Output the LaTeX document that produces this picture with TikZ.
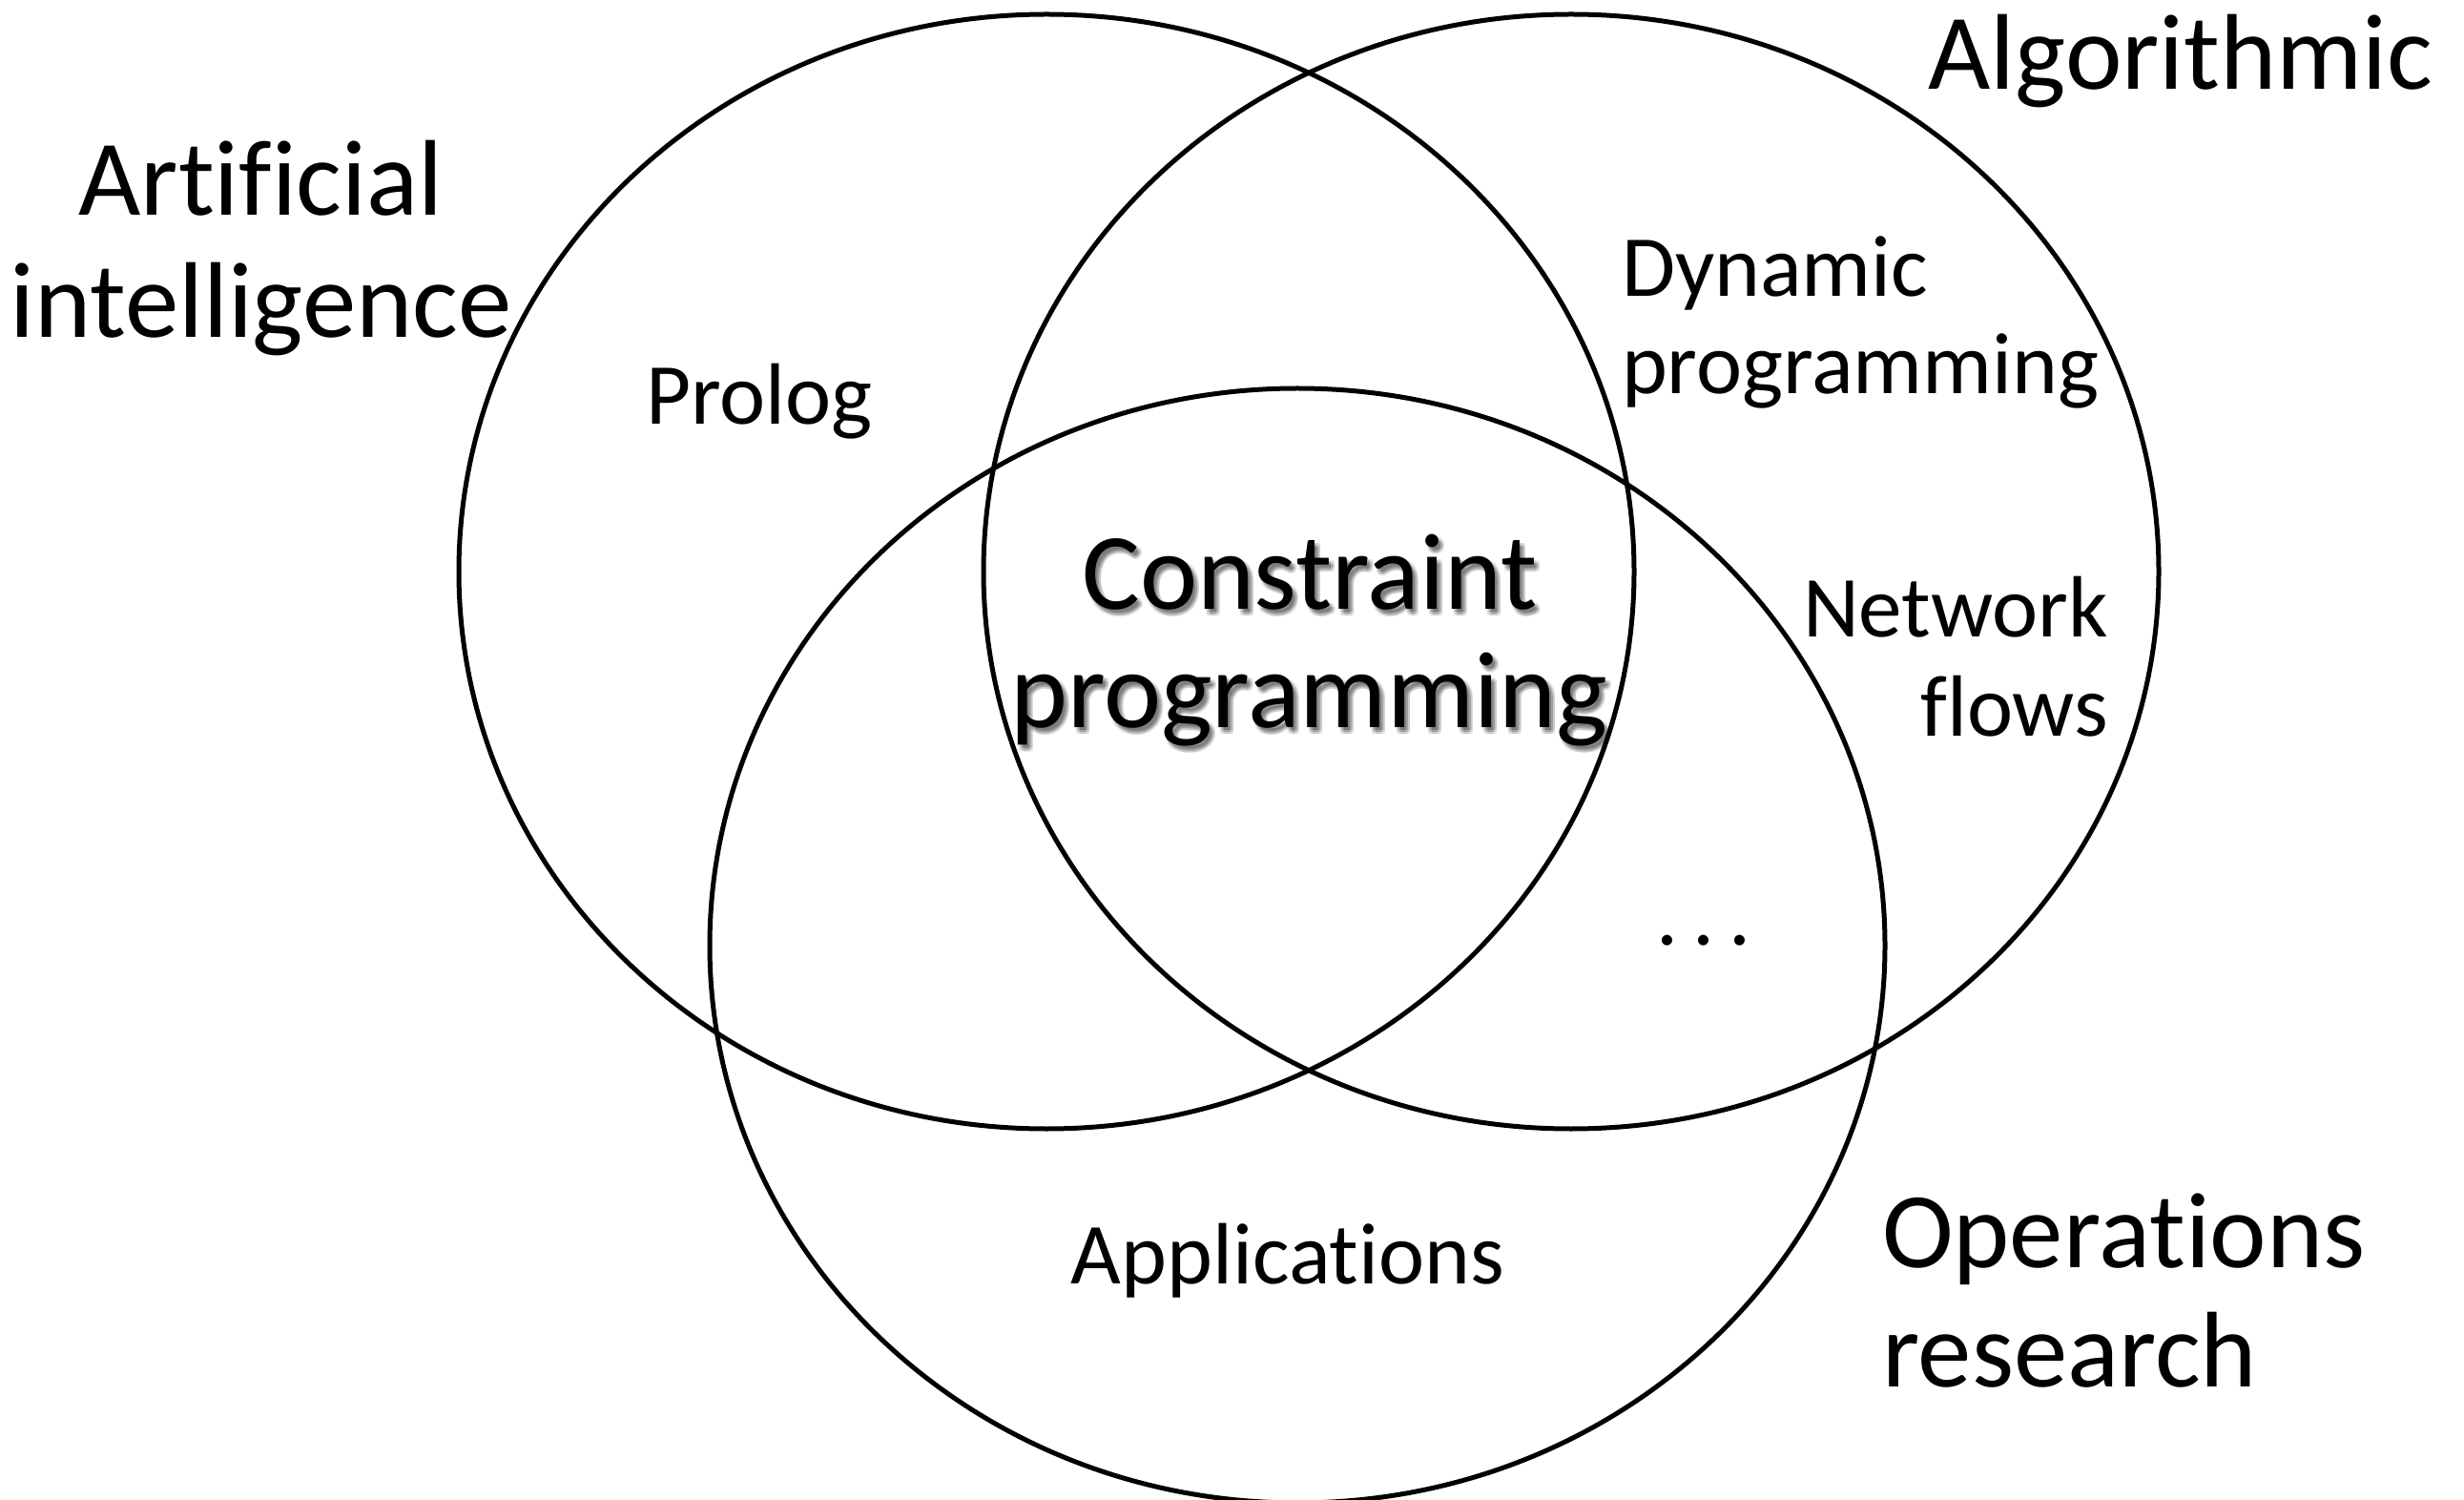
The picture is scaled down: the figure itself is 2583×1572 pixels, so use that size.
\documentclass[tikz,border=0pt]{standalone}
\usepackage{fontspec}
\setmainfont[Ligatures=NoCommon]{Carlito}
\begin{document}
\begin{tikzpicture}[x=0.25pt,y=-0.25pt,
  ring/.style={line width=1.25pt},
  lbl/.style={inner sep=0pt,outer sep=0pt},
  big/.style={lbl,font=\fontsize{28.2pt}{32pt}\selectfont},
  mid/.style={lbl,font=\fontsize{22.8pt}{26pt}\selectfont},
  cp/.style={lbl,font=\fontsize{28.5pt}{32pt}\selectfont},
  shad/.style={cp,text=black,text opacity=0.075}]
\fill[white] (0,0) rectangle (2583,1572);
\useasboundingbox (0,0) rectangle (2583,1572);
% circles
\draw[ring] (1097,599) ellipse [x radius=616,y radius=584];
\draw[ring] (1647,599) ellipse [x radius=616,y radius=584];
\draw[ring] (1360,991) ellipse [x radius=616,y radius=584];
% outer labels
\node[big,anchor=base] (ai1) at (273.5,226) {Artificial};
\node[big,anchor=base] (ai2) at (273.5,354) {intelligence};
\node[big,anchor=base] (alg) at (2286,94) {Algorithmic};
\node[big,anchor=base west] (or1) at (1973,1328) {Operations};
\node[big,anchor=base west] (or2) at (1973,1453) {research};
% inner labels
\node[mid,anchor=base] (prolog) at (796,445) {Prolog};
\node[mid,anchor=base west] (dyn1) at (1700,311) {Dynamic};
\node[mid,anchor=base west] (dyn2) at (1700,413) {programming};
\node[mid,anchor=base east] (net1) at (2210,668) {Network};
\node[mid,anchor=base east] (net2) at (2210,772) {flows};
\node[mid,anchor=base] (dots) at (1786,990) {.\hspace{0.16em}.\hspace{0.16em}.};
\node[mid,anchor=base] (app) at (1350,1345) {Applications};
% centre label with soft shadow
\foreach \dx/\dy [count=\i] in {2/3,4/3,6/3,2/5,4/5,6/5,2/7,4/7,6/7}{
  \node[shad,anchor=base] (sa\i) at (1373+\dx,639+\dy) {Constraint};
  \node[shad,anchor=base] (sb\i) at (1372+\dx,763+\dy) {programming};
}
\node[cp,anchor=base] (cp1) at (1373,639) {Constraint};
\node[cp,anchor=base] (cp2) at (1372,763) {programming};
\end{tikzpicture}
\end{document}
